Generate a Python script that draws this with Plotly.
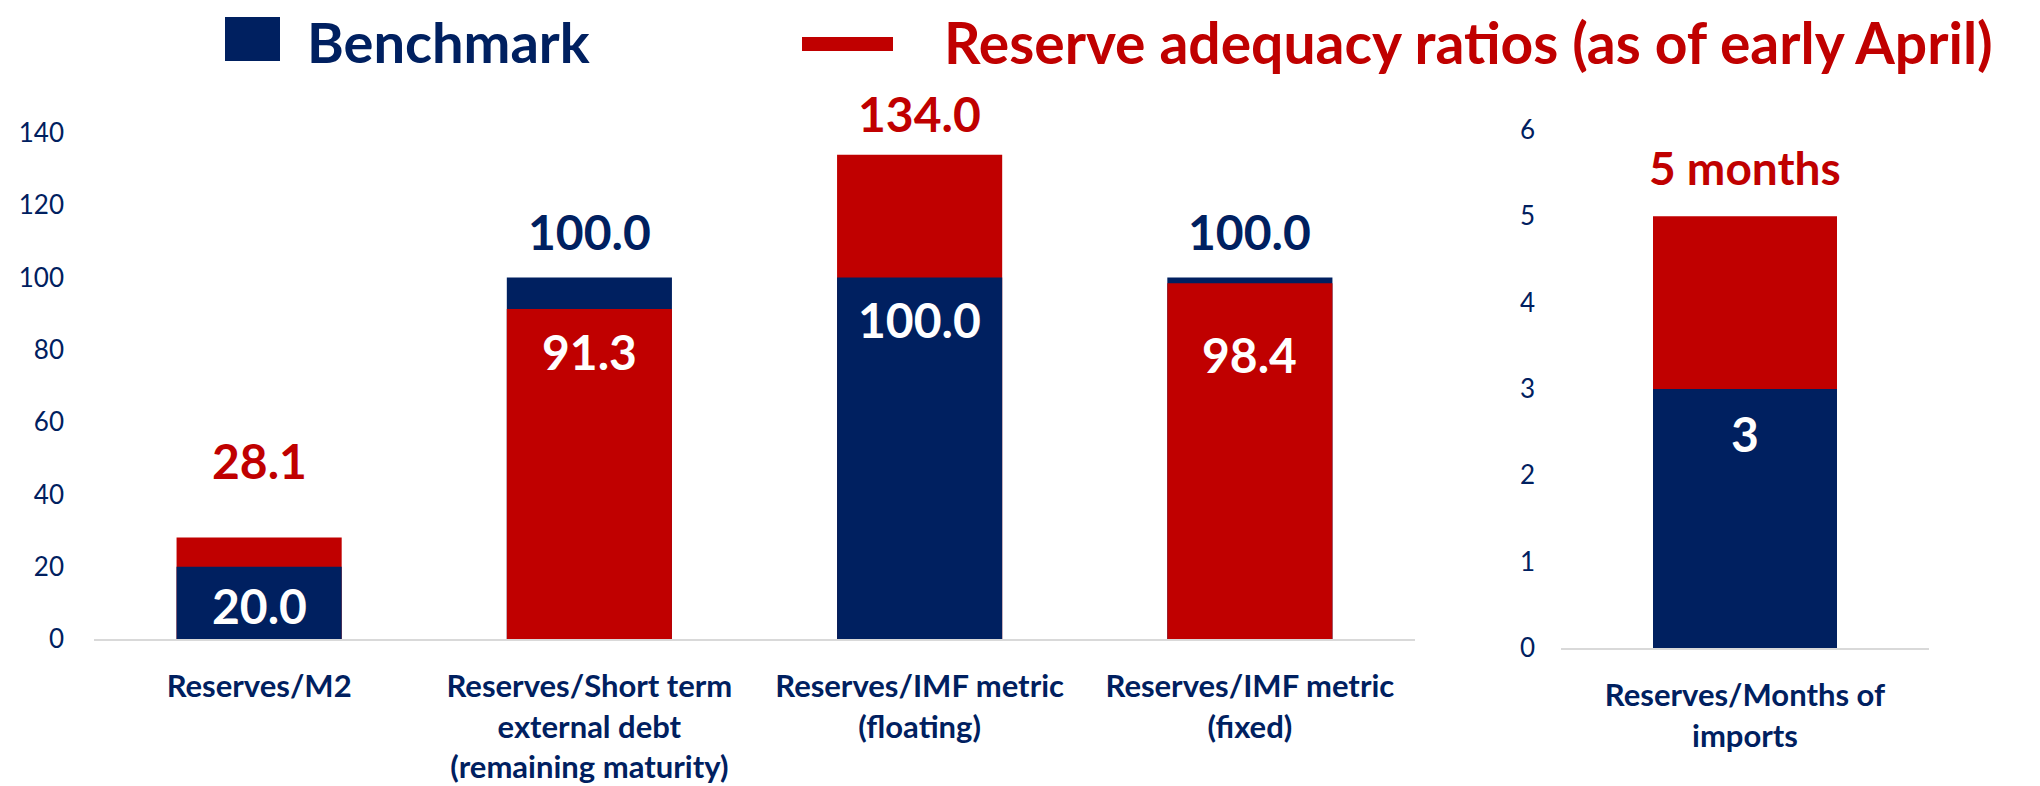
import plotly.graph_objects as go

NAVY = "#002060"
RED = "#C00000"

categories = ["Reserves/M2",
              "Reserves/Short term<br>external debt<br>(remaining maturity)",
              "Reserves/IMF metric<br>(floating)",
              "Reserves/IMF metric<br>(fixed)"]
benchmark = [20.0, 100.0, 100.0, 100.0]
ratios = [28.1, 91.3, 134.0, 98.4]

import_category = ["Reserves/Months of<br>imports"]
import_benchmark = [3]
import_ratio = [5]

# label offsets (px) for the top and inner value labels
top_shift = [77, 46, 41, 46]
inner_shift = [-39, -42, -42, -71]

# page has an 8px body margin, so the figure is a bit smaller than the window
OFF = 8
W, H = 2040 - OFF, 786 - OFF


def px(x):
    return (x - OFF) / W


def py(y):
    return 1 - (y - OFF) / H


fig = go.Figure()


def add_overlap(cats, bench, ratio, xa, ya):
    # bigger value drawn first, smaller one on top of it
    back = [max(b, r) for b, r in zip(bench, ratio)]
    front = [min(b, r) for b, r in zip(bench, ratio)]
    back_col = [RED if r > b else NAVY for b, r in zip(bench, ratio)]
    front_col = [NAVY if r > b else RED for b, r in zip(bench, ratio)]
    fig.add_trace(go.Bar(x=cats, y=back, marker=dict(color=back_col, line=dict(width=0)),
                         xaxis=xa, yaxis=ya, showlegend=False, hoverinfo="skip"))
    fig.add_trace(go.Bar(x=cats, y=front, marker=dict(color=front_col, line=dict(width=0)),
                         xaxis=xa, yaxis=ya, showlegend=False, hoverinfo="skip"))
    return back, front, back_col, front_col


back, front, back_col, front_col = add_overlap(categories, benchmark, ratios, "x", "y")
for i, c in enumerate(categories):
    fig.add_annotation(x=c, y=back[i], xref="x", yref="y", text="<b>%.1f</b>" % back[i],
                       showarrow=False, yshift=top_shift[i],
                       font=dict(family="Lato", size=48, color=back_col[i]))
    fig.add_annotation(x=c, y=front[i], xref="x", yref="y", text="<b>%.1f</b>" % front[i],
                       showarrow=False, yshift=inner_shift[i],
                       font=dict(family="Lato", size=48, color="white"))

b2, f2, bc2, fc2 = add_overlap(import_category, import_benchmark, import_ratio, "x2", "y2")
fig.add_annotation(x=import_category[0], y=b2[0], xref="x2", yref="y2",
                   text="<b>%d months</b>" % b2[0], showarrow=False, yshift=49,
                   font=dict(family="Lato", size=46, color=bc2[0]))
fig.add_annotation(x=import_category[0], y=f2[0], xref="x2", yref="y2",
                   text="<b>%d</b>" % f2[0], showarrow=False, yshift=-44,
                   font=dict(family="Lato", size=48, color="white"))

# legend drawn by hand (big swatches)
fig.add_shape(type="rect", xref="paper", yref="paper", x0=px(225), x1=px(280),
              y0=py(61), y1=py(17), fillcolor=NAVY, line=dict(width=0))
fig.add_shape(type="rect", xref="paper", yref="paper", x0=px(802), x1=px(893),
              y0=py(51), y1=py(37), fillcolor=RED, line=dict(width=0))
fig.add_annotation(xref="paper", yref="paper", x=px(305), y=py(42), xanchor="left",
                   yanchor="middle", text="<b>Benchmark</b>", showarrow=False,
                   font=dict(family="Lato", size=56, color=NAVY))
fig.add_annotation(xref="paper", yref="paper", x=px(942), y=py(42), xanchor="left",
                   yanchor="middle", text="<b>Reserve adequacy ratios (as of early April)</b>",
                   showarrow=False, font=dict(family="Lato", size=57, color=RED))

xfont = dict(family="Lato", size=31, color=NAVY, weight="bold")
yfont = dict(family="Lato", size=26, color=NAVY)
fig.update_layout(
    width=W, height=H, autosize=False,
    margin=dict(l=0, r=0, t=0, b=0, autoexpand=False),
    barmode="overlay", bargap=0.5,
    plot_bgcolor="white", paper_bgcolor="white",
    showlegend=False,
    xaxis=dict(domain=[px(94), px(1415)], showline=True, linecolor="#D9D9D9", linewidth=2,
               ticks="", tickfont=xfont, showgrid=False, anchor="y", ticklabelstandoff=19,
               automargin=False),
    yaxis=dict(domain=[py(639), py(133)], range=[0, 140], dtick=20, showgrid=False,
               zeroline=False, ticks="", tickfont=yfont, anchor="x", ticklabelstandoff=29,
               automargin=False),
    xaxis2=dict(domain=[px(1561), px(1929)], showline=True, linecolor="#D9D9D9", linewidth=2,
                ticks="", tickfont=xfont, showgrid=False, anchor="y2", ticklabelstandoff=19,
                automargin=False),
    yaxis2=dict(domain=[py(648), py(130)], range=[0, 6], dtick=1, showgrid=False,
                zeroline=False, ticks="", tickfont=yfont, anchor="x2", ticklabelstandoff=25,
                automargin=False),
)

fig.write_html("out.html")
